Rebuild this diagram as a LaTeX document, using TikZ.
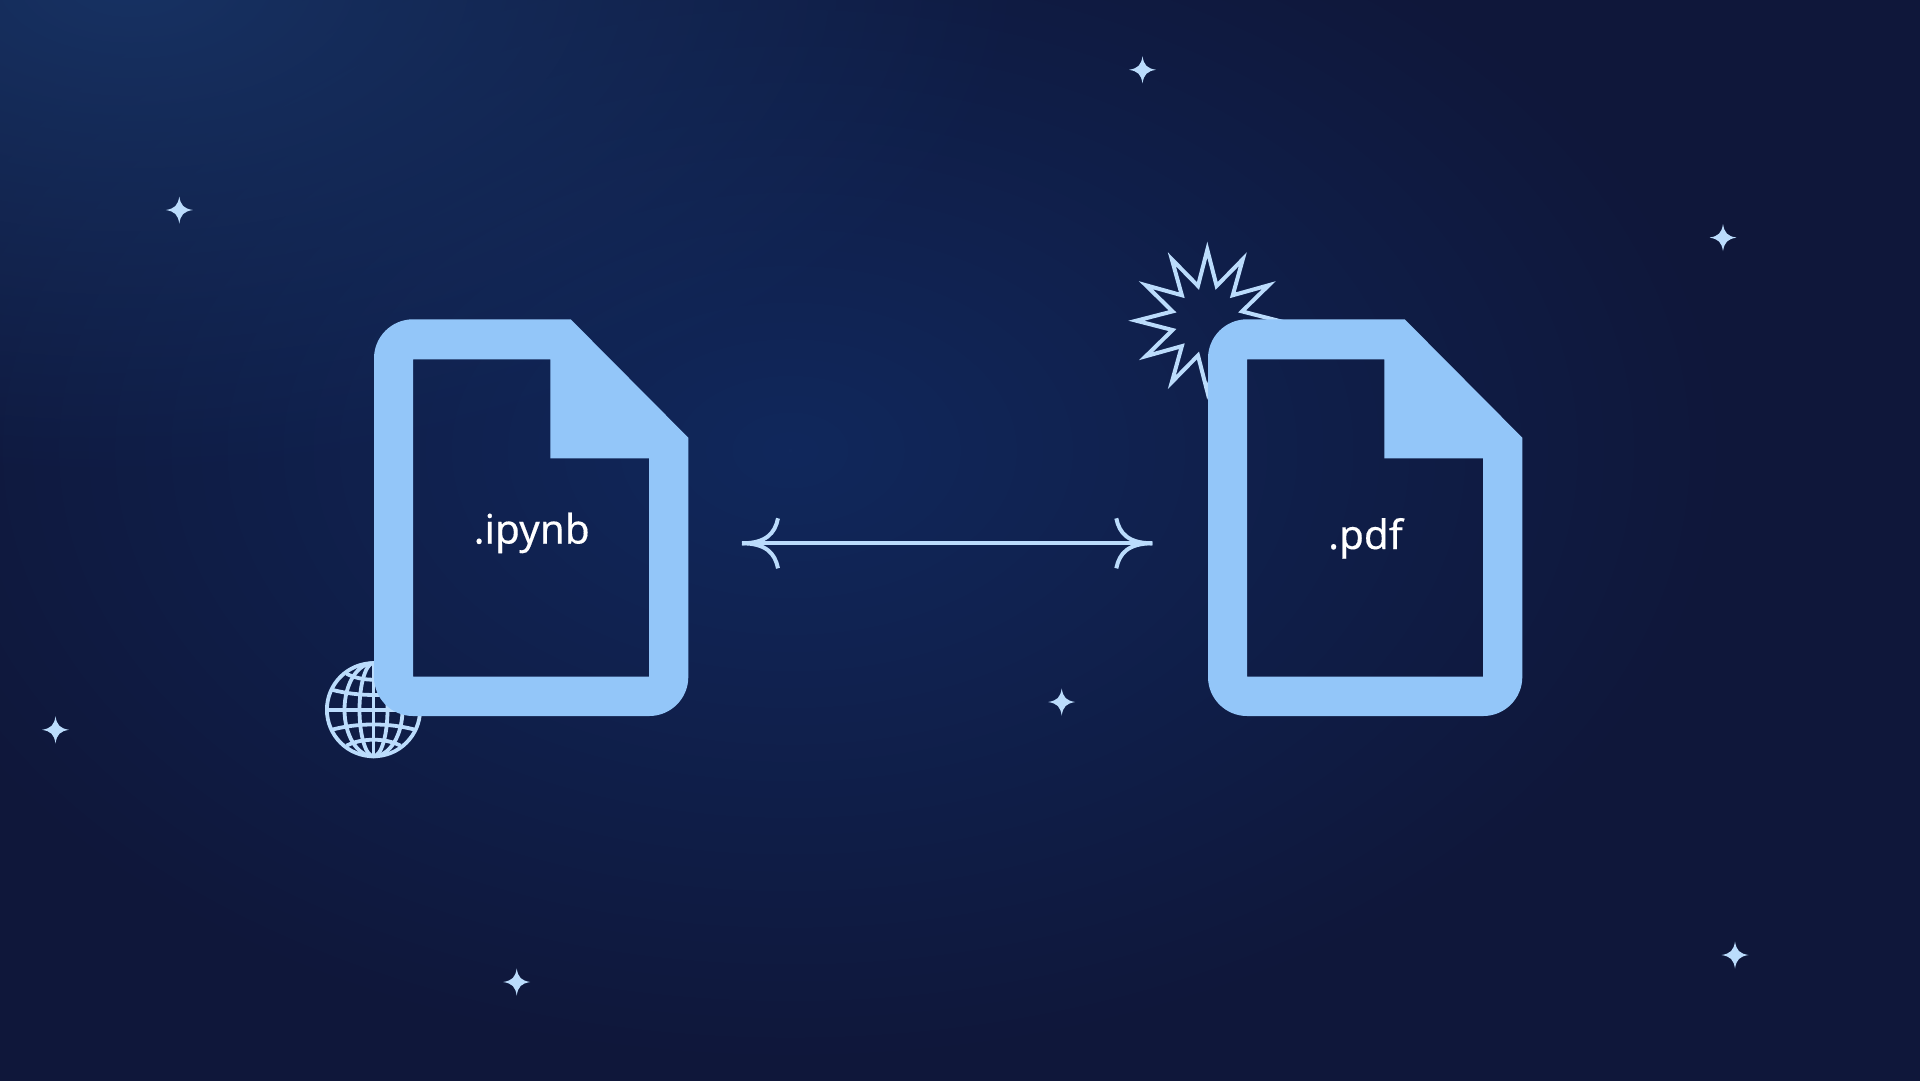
\documentclass[tikz,border=0pt]{standalone}
\usepackage{fontspec}
\setmainfont[FakeBold=0.25]{Noto Sans}
\usetikzlibrary{calc}
\usetikzlibrary{fadings}
\definecolor{NightBase}{HTML}{0F173A}
\definecolor{NightGlow}{HTML}{173263}
\definecolor{NightMid}{HTML}{11285C}
\definecolor{DocBlue}{HTML}{93C6F9}
\definecolor{PaleBlue}{HTML}{BBDCFC}
\tikzfading[name=GlowFade, inner color=transparent!0, outer color=transparent!100]
\tikzset{
  DocFill/.style={fill=DocBlue, even odd rule},
  PaleLine/.style={draw=PaleBlue, line width=4pt, fill=none},
  DocLabel/.style={text=white, anchor=base, font=\fontsize{40.5}{40.5}\selectfont, inner sep=0pt}
}
\newcommand{\NBDocument}[4]{
  \coordinate (#1) at #2;
  \fill [DocFill, shift={(#1)}]
    (0,39) .. controls (0,17.5) and (17.5,0) .. (39,0) -- (196.7,0) -- (314.3,118.4)
    -- (314.3,357.7) .. controls (314.3,379.2) and (296.8,396.7) .. (275.3,396.7)
    -- (39,396.7) .. controls (17.5,396.7) and (0,379.2) .. (0,357.7) -- cycle
    (39,40) -- (176.3,40) -- (176.3,139) -- (275,139) -- (275,357.4) -- (39,357.4) -- cycle;
  \node [DocLabel] (#1label) at #3 {#4};
}
\newcommand{\NBSparkle}[2]{
  \coordinate (#1) at #2;
  \fill [PaleBlue, shift={(#1)}]
    (0,-13.5) .. controls (1.5,-4.5) and (4.5,-1.5) .. (13.5,0)
    .. controls (4.5,1.5) and (1.5,4.5) .. (0,13.5)
    .. controls (-1.5,4.5) and (-4.5,1.5) .. (-13.5,0)
    .. controls (-4.5,-1.5) and (-1.5,-4.5) .. (0,-13.5) -- cycle;
}
\newcommand{\NBArrowTip}[2]{
  \draw [PaleLine] (#1) .. controls ($(#1) +(#2*24,0)$) and ($(#1) +(#2*33,-10)$) .. ($(#1) +(#2*36,-25)$);
  \draw [PaleLine] (#1) .. controls ($(#1) +(#2*24,0)$) and ($(#1) +(#2*33,10)$) .. ($(#1) +(#2*36,25)$);
}
\begin{document}
\begin{tikzpicture}[x=1pt,y=-1pt]
\useasboundingbox (0,0) rectangle (1920,1080);
\fill [NightBase] (-5,-5) rectangle (1925,1085);
\fill [NightMid, path fading=GlowFade] (790,450) ellipse [x radius=950, y radius=620];
\fill [NightGlow, path fading=GlowFade] (130,-20) ellipse [x radius=900, y radius=500];

% sparkles
\NBSparkle{s1}{(179.3,210)}
\NBSparkle{s2}{(1142.5,69.8)}
\NBSparkle{s3}{(1723,237.6)}
\NBSparkle{s4}{(55.5,729.8)}
\NBSparkle{s5}{(1061.7,702)}
\NBSparkle{s6}{(516.7,982)}
\NBSparkle{s7}{(1735,955)}

% globe behind the first file
\coordinate (globe) at (373.5,709.7);
\begin{scope}[shift={(globe)}, line width=3.8pt, draw=PaleBlue]
\draw (0,0) circle (46.6);
\draw (0,-46.6) -- (0,46.6);
\draw (-46.6,0) -- (46.6,0);
\foreach \r in {14,29} {
  \draw (0,0) ellipse [x radius=\r, y radius=46.6];
}
\foreach \s in {-1,1} {
  \draw (-41.7,\s*20) .. controls (-15,\s*13) and (15,\s*13) .. (41.7,\s*20);
  \draw (-27,\s*36) .. controls (-12,\s*28) and (12,\s*28) .. (27,\s*36);
}
\end{scope}

% burst behind the second file
\coordinate (burst) at (1207.3,320.7);
\begin{scope}
\clip (1100,200) -- (1400,200) -- (1400,357) -- (1240,357) -- (1240,420) -- (1100,420) -- cycle;
\draw [PaleLine, miter limit=10, shift={(burst)}]
  (90:71)
  \foreach \a in {0,...,11} { -- ({75-\a*30}:36) -- ({60-\a*30}:71) } -- cycle;
\end{scope}

\NBDocument{ipynb}{(374,319.3)}{(531.7,543.5)}{.ipynb}
\NBDocument{pdf}{(1208,319.3)}{(1365.5,549)}{.pdf}

% link between the files
\coordinate (linkL) at (742,543.3);
\coordinate (linkR) at (1152.3,543.3);
\draw [PaleLine] (linkL) -- (linkR);
\NBArrowTip{linkL}{1}
\NBArrowTip{linkR}{-1}
\end{tikzpicture}
\end{document}
